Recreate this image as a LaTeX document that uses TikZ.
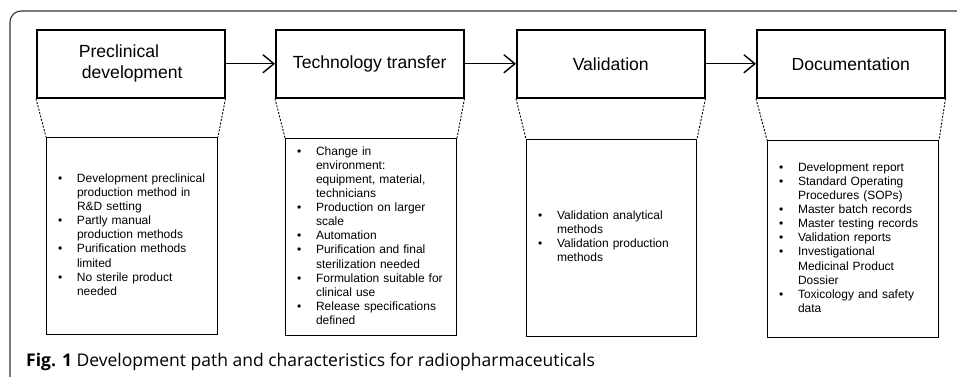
\documentclass[tikz,border=0pt]{standalone}
\usepackage{fontspec}
\setmainfont{Liberation Sans}
\newfontfamily\capfont{Open Sans}
\usetikzlibrary{arrows.meta}
\newcommand{\bi}{\makebox[19pt][l]{\textbullet}}
\begin{document}
\begin{tikzpicture}[x=1pt,y=-1pt,
  topbox/.style={draw, line width=1.5pt, minimum width=188pt, minimum height=68pt, inner sep=0pt,
    font=\fontsize{17.6}{21}\selectfont, anchor=north west},
  listbox/.style={draw, line width=1pt, minimum height=197pt, anchor=north west, inner xsep=11.5pt,
    inner ysep=0pt, text width=148pt, align=left, font=\fontsize{12}{14.1}\selectfont},
  zoomline/.style={line width=0.9pt, dash pattern=on 2pt off 1.5pt},
  flow/.style={line width=1.4pt, -{Straight Barb[length=11pt,width=18pt,line width=1.4pt]}},
  frame/.style={draw=black!80, line width=1.1pt, rounded corners=11pt}]
\useasboundingbox (0,0) rectangle (957,376);
\clip (0,0) rectangle (957,376);
\draw[frame] (10,11) rectangle (990,395);

\node[topbox, align=left] (b1) at (36,29) {Preclinical\\\hspace*{3pt}development};
\node[topbox] (b2) at (275,29) {Technology transfer};
\node[topbox] (b3) at (516,29) {Validation};
\node[topbox] (b4) at (756,29) {Documentation};

\draw[flow] (b1) -- (b2);
\draw[flow] (b2) -- (b3);
\draw[flow] (b3) -- (b4);

\node[listbox] (l1) at (46,137) {\begin{tabular}{@{}l@{}l@{}}
\bi & Development preclinical\\
 & production method in\\
 & R\&D setting\\
\bi & Partly manual\\
 & production methods\\
\bi & Purification methods\\
 & limited\\
\bi & No sterile product\\
 & needed
\end{tabular}};
\node[listbox] (l2) at (285,138) {\begin{tabular}{@{}l@{}l@{}}
\bi & Change in\\
 & environment:\\
 & equipment, material,\\
 & technicians\\
\bi & Production on larger\\
 & scale\\
\bi & Automation\\
\bi & Purification and final\\
 & sterilization needed\\
\bi & Formulation suitable for\\
 & clinical use\\
\bi & Release specifications\\
 & defined
\end{tabular}};
\node[listbox, text width=147pt] (l3) at (526,139) {\begin{tabular}{@{}l@{}l@{}}
\bi & Validation analytical\\
 & methods\\
\bi & Validation production\\
 & methods
\end{tabular}};
\node[listbox] (l4) at (767,140) {\begin{tabular}{@{}l@{}l@{}}
\bi & Development report\\
\bi & Standard Operating\\
 & Procedures (SOPs)\\
\bi & Master batch records\\
\bi & Master testing records\\
\bi & Validation reports\\
\bi & Investigational\\
 & Medicinal Product\\
 & Dossier\\
\bi & Toxicology and safety\\
 & data
\end{tabular}};

\foreach \i in {1,2,3,4}{
  \draw[zoomline] (b\i.south west) -- (l\i.north west);
  \draw[zoomline] (b\i.south east) -- (l\i.north east);
}

\node[anchor=base west, inner sep=0pt, font=\capfont\fontsize{17.5}{20}\selectfont] (cap) at (26,366)
  {\textbf{Fig. 1} Development path and characteristics for radiopharmaceuticals};
\end{tikzpicture}
\end{document}
